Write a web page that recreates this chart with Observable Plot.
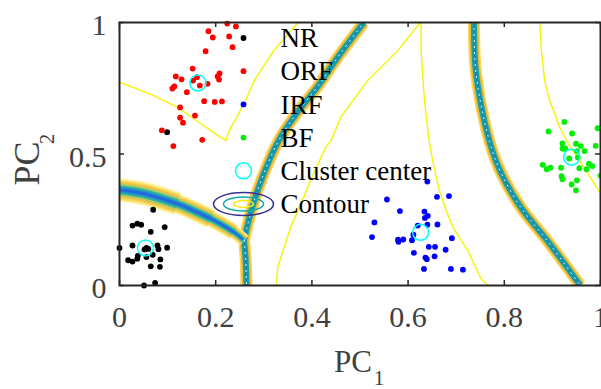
<!DOCTYPE html>
<html><head><meta charset="utf-8">
<script src="https://cdn.jsdelivr.net/npm/d3@7"></script>
<script src="https://cdn.jsdelivr.net/npm/@observablehq/plot@0.6"></script>
<style>body{margin:0;background:#fff}</style>
</head><body><div id="chart"></div>
<script>
const xTicks = [0, 0.2, 0.4, 0.6, 0.8, 1];
const yTicks = [0, 0.5, 1];
const legendLabels = ["NR", "ORF", "IRF", "BF", "Cluster center", "Contour"];

const nrPoints = [[0.070,0.288],[0.027,0.228],[0.037,0.235],[0.045,0.231],[0.094,0.222],[0.065,0.204],[0.000,0.143],[0.027,0.152],[0.052,0.137],[0.056,0.143],[0.060,0.139],[0.079,0.152],[0.081,0.138],[0.099,0.144],[0.069,0.117],[0.056,0.108],[0.038,0.113],[0.037,0.102],[0.018,0.096],[0.027,0.091],[0.085,0.099],[0.065,0.073],[0.084,0.071],[0.074,0.010],[0.051,0.000],[0.099,0.583]];
const orfPoints = [[0.224,0.996],[0.242,0.985],[0.185,0.967],[0.194,0.943],[0.228,0.947],[0.235,0.906],[0.179,0.891],[0.152,0.825],[0.117,0.795],[0.129,0.784],[0.161,0.792],[0.153,0.779],[0.167,0.760],[0.183,0.767],[0.208,0.806],[0.204,0.795],[0.207,0.783],[0.114,0.757],[0.110,0.749],[0.140,0.735],[0.176,0.701],[0.198,0.698],[0.213,0.700],[0.126,0.677],[0.126,0.638],[0.132,0.619],[0.157,0.646],[0.088,0.590],[0.112,0.530],[0.172,0.554]];
const irfPoints = [[0.640,0.395],[0.556,0.327],[0.660,0.337],[0.685,0.340],[0.583,0.283],[0.634,0.281],[0.641,0.265],[0.635,0.257],[0.640,0.231],[0.661,0.232],[0.620,0.228],[0.611,0.193],[0.579,0.174],[0.580,0.166],[0.590,0.175],[0.608,0.172],[0.643,0.147],[0.656,0.147],[0.691,0.180],[0.678,0.136],[0.612,0.124],[0.636,0.106],[0.639,0.100],[0.655,0.111],[0.633,0.063],[0.689,0.063],[0.714,0.060],[0.530,0.240],[0.525,0.184]];
const bfPoints = [[0.925,0.622],[0.892,0.586],[0.941,0.578],[0.994,0.598],[0.921,0.540],[0.921,0.521],[0.927,0.520],[0.949,0.539],[0.959,0.530],[0.967,0.511],[0.951,0.511],[0.990,0.531],[0.935,0.483],[0.953,0.487],[0.880,0.459],[0.888,0.442],[0.896,0.448],[0.918,0.448],[0.956,0.446],[0.971,0.442],[0.976,0.463],[0.983,0.454],[0.919,0.416],[0.921,0.404],[0.951,0.400],[0.940,0.384],[0.949,0.362],[1.000,0.418]];
const clusterCenters = [[0.054,0.143],[0.163,0.770],[0.626,0.202],[0.940,0.488]];

// thick boundary bands (contour paths)
const bandNrOrf = [[0,0.364],[0.051,0.349],[0.120,0.311],[0.190,0.254],[0.238,0.203],[0.259,0.171]];
const bandDown = [[0.259,0.171],[0.262,0.108],[0.264,0]];
const bandUp = [[0.259,0.171],[0.276,0.298],[0.300,0.425],[0.331,0.551],[0.368,0.654],[0.411,0.754],[0.459,0.881],[0.508,1.0]];
const bandArc = [[0.737,1.0],[0.740,0.830],[0.754,0.665],[0.775,0.513],[0.794,0.425],[0.834,0.298],[0.889,0.171],[0.958,0]];
// thin yellow contour lines
const lineA = [[0,0.773],[0.023,0.757],[0.071,0.722],[0.120,0.678],[0.155,0.634],[0.190,0.589],[0.221,0.551],[0.228,0.589],[0.259,0.690],[0.280,0.779],[0.321,0.894],[0.370,0.997]];
const lineB = [[0.624,0.997],[0.579,0.894],[0.516,0.779],[0.460,0.640],[0.440,0.551],[0.429,0.526],[0.397,0.399],[0.383,0.336],[0.356,0.222],[0.329,0.070],[0.326,0]];
const lineC = [[0.627,0.997],[0.627,0.894],[0.634,0.703],[0.643,0.560],[0.651,0.475],[0.665,0.361],[0.679,0.285],[0.693,0.222],[0.724,0.133],[0.752,0.025],[0.766,0]];
const lineD = [[0.874,0.997],[0.877,0.894],[0.884,0.779],[0.894,0.703],[0.905,0.653],[0.915,0.602],[0.933,0.539],[0.954,0.482],[0.974,0.425],[1.0,0.349]];

const px = d => d[0], py = d => d[1];
const font = "Liberation Serif, Times New Roman, serif";

// wide band: width at the junction end, grows toward the left edge
const wideLayers = [[13,"#fdf1a6"],[11,"#f9dc5a"],[9,"#f1c04a"],[7,"#a9cc66"],[5,"#35b09c"],[3,"#1d92c8"],[1.4,"#2468e0"]];
const taper = [[bandNrOrf, 1], [bandNrOrf.slice(0, 5), 1.25], [bandNrOrf.slice(0, 4), 1.5], [bandNrOrf.slice(0, 3), 1.8]];
const narrowLayers = [[12,"#fbd65a"],[9,"#f0b33a"],[6,"#1aa3a0"],[2.5,"#128db2"]];

const marks = [];
for (const [w, c] of narrowLayers) {
  for (const b of [bandDown, bandUp, bandArc]) {
    marks.push(Plot.line(b, {x: px, y: py, stroke: c, strokeWidth: w, curve: "catmull-rom", strokeLinecap: "butt", clip: true}));
  }
}
for (const [w, c] of wideLayers) {
  for (const [seg, f] of taper) {
    marks.push(Plot.line(seg, {x: px, y: py, stroke: c, strokeWidth: w * f, curve: "catmull-rom", strokeLinecap: "butt", clip: true}));
  }
}
for (const b of [bandDown, bandUp, bandArc]) {
  marks.push(Plot.line(b, {x: px, y: py, stroke: "white", strokeWidth: 1, strokeDasharray: "1,5", curve: "catmull-rom", clip: true}));
}
for (const l of [lineA, lineB, lineC, lineD]) {
  marks.push(Plot.line(l, {x: px, y: py, stroke: "#f5f500", strokeWidth: 1.4, clip: true}));
}
const seriesColors = ["#000000", "#ff0000", "#0000ff", "#00ee00"];
[nrPoints, orfPoints, irfPoints, bfPoints].forEach((pts, i) => {
  marks.push(Plot.dot(pts, {x: px, y: py, r: 2.9, fill: seriesColors[i]}));
});
marks.push(Plot.dot(clusterCenters, {x: px, y: py, r: 8, stroke: "#00ffff", strokeWidth: 1.5, fill: "none"}));

// frame, inward ticks
marks.push(Plot.frame({stroke: "#262626", strokeWidth: 2}));
marks.push(Plot.tickX(xTicks, {x: d => d, insetTop: 258, stroke: "#262626", strokeWidth: 1.5}));
marks.push(Plot.tickX(xTicks, {x: d => d, insetBottom: 258, stroke: "#262626", strokeWidth: 1.5}));
marks.push(Plot.tickY(yTicks, {y: d => d, insetRight: 476, stroke: "#262626", strokeWidth: 1.5}));
marks.push(Plot.tickY(yTicks, {y: d => d, insetLeft: 476, stroke: "#262626", strokeWidth: 1.5}));

// tick labels
marks.push(Plot.axisX({ticks: xTicks, anchor: "bottom", tickSize: 0, tickPadding: 20, fontSize: 30, fontFamily: font, fill: "#404040", tickFormat: d => String(d), label: null}));
marks.push(Plot.axisY({ticks: yTicks, anchor: "left", tickSize: 0, tickPadding: 13, fontSize: 30, fontFamily: font, fill: "#404040", tickFormat: d => String(d), label: null, dy: 3}));

// axis labels with subscripts
marks.push(Plot.text(["PC"], {text: d => d, frameAnchor: "bottom", textAnchor: "end", lineAnchor: "middle", dx: 12, dy: 77, fontSize: 31, fontFamily: font, fill: "#404040"}));
marks.push(Plot.text(["1"], {text: d => d, frameAnchor: "bottom", textAnchor: "middle", lineAnchor: "middle", dx: 19, dy: 93, fontSize: 21, fontFamily: font, fill: "#404040"}));
marks.push(Plot.text(["PC"], {text: d => d, frameAnchor: "left", rotate: -90, textAnchor: "start", lineAnchor: "middle", dx: -92, dy: 31.5, fontSize: 36, fontFamily: font, fill: "#404040"}));
marks.push(Plot.text(["2"], {text: d => d, frameAnchor: "left", rotate: -90, textAnchor: "middle", lineAnchor: "middle", dx: -72, dy: -15, fontSize: 21, fontFamily: font, fill: "#404040"}));

// legend
const legStep = 33.2, legTop = 15.5;
const ellipse = (rx, ry) => ({draw(ctx) {
  const k = 0.5523;
  ctx.moveTo(rx, 0);
  ctx.bezierCurveTo(rx, ry * k, rx * k, ry, 0, ry);
  ctx.bezierCurveTo(-rx * k, ry, -rx, ry * k, -rx, 0);
  ctx.bezierCurveTo(-rx, -ry * k, -rx * k, -ry, 0, -ry);
  ctx.bezierCurveTo(rx * k, -ry, rx, -ry * k, rx, 0);
  ctx.closePath();
}});
legendLabels.forEach((lab, i) => {
  const dy = legTop + i * legStep;
  marks.push(Plot.text([lab], {text: d => d, frameAnchor: "top-left", textAnchor: "start", lineAnchor: "middle", dx: 161, dy: dy + 0.5, fontSize: 27, fontFamily: font, fill: "black"}));
  if (i < 4) {
    marks.push(Plot.dot([lab], {frameAnchor: "top-left", dx: 124, dy, r: 2.9, fill: seriesColors[i]}));
  } else if (i === 4) {
    marks.push(Plot.dot([lab], {frameAnchor: "top-left", dx: 124, dy, r: 8, stroke: "#00ffff", strokeWidth: 1.5, fill: "none"}));
  } else {
    [[30, 11.5, "#3a2f8c"], [20, 7, "#16ad9f"], [10, 3.4, "#f2ec12"]].forEach(([rx, ry, c]) => {
      marks.push(Plot.dot([lab], {frameAnchor: "top-left", dx: 124, dy, symbol: ellipse(rx, ry), r: 5, stroke: c, strokeWidth: 1.5, fill: "none"}));
    });
  }
});

const chart = Plot.plot({
  width: 601, height: 389,
  marginLeft: 119, marginRight: 1, marginTop: 22, marginBottom: 104,
  x: {domain: [0, 1]}, y: {domain: [0, 1]},
  style: {fontFamily: font, background: "white", overflow: "visible"},
  marks
});
document.getElementById("chart").appendChild(chart);
</script>
</body></html>
